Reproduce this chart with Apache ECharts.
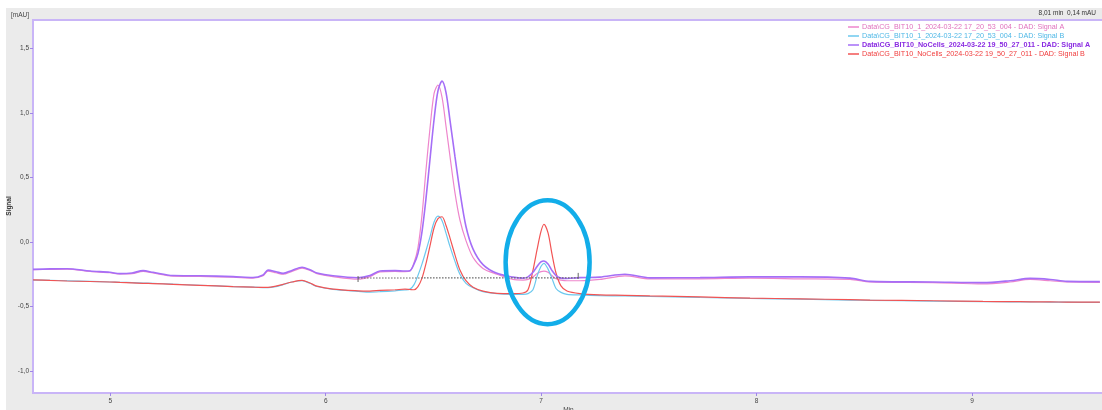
<!DOCTYPE html>
<html><head><meta charset="utf-8">
<script src="https://cdn.jsdelivr.net/npm/echarts@6/dist/echarts.min.js"></script>
<style>
html,body{margin:0;padding:0;background:#fff;}
#wrap{position:relative;width:1102px;height:410px;background:#fff;overflow:hidden;}
#bg{position:absolute;left:6px;top:8px;right:0;bottom:0;background:#ebebeb;}
#chart{position:absolute;left:0;top:0;width:1102px;height:410px;}
</style></head><body>
<div id="wrap"><div id="bg"></div><div id="chart"></div></div>
<script>
// retention time (min)
const timeMin = [4.641,4.720,4.799,4.906,4.998,5.045,5.101,5.152,5.198,5.291,5.416,5.570,5.662,5.709,5.732,5.769,5.802,5.843,5.890,5.927,5.959,6.034,6.150,6.205,6.252,6.322,6.368,6.391,6.410,6.428,6.447,6.465,6.484,6.503,6.521,6.540,6.558,6.577,6.600,6.623,6.651,6.684,6.730,6.795,6.869,6.916,6.939,6.962,6.981,6.999,7.013,7.032,7.050,7.069,7.092,7.120,7.180,7.273,7.389,7.505,7.738,7.970,8.202,8.434,8.527,8.819,9.051,9.177,9.270,9.363,9.441,9.594];
// sample, Signal A (pink)
const sampleA = [-0.215,-0.212,-0.21,-0.228,-0.238,-0.248,-0.245,-0.228,-0.24,-0.265,-0.267,-0.273,-0.28,-0.262,-0.225,-0.238,-0.25,-0.228,-0.202,-0.22,-0.245,-0.268,-0.288,-0.268,-0.232,-0.228,-0.23,-0.225,-0.16,-0.045,0.21,0.55,0.88,1.15,1.215,1.12,0.90,0.66,0.38,0.17,0.01,-0.12,-0.205,-0.25,-0.29,-0.295,-0.29,-0.27,-0.245,-0.23,-0.225,-0.235,-0.26,-0.285,-0.295,-0.3,-0.3,-0.29,-0.262,-0.285,-0.285,-0.28,-0.285,-0.29,-0.31,-0.315,-0.325,-0.31,-0.29,-0.30,-0.31,-0.312];
// sample, Signal B (blue)
const sampleB = [-0.295,-0.297,-0.30,-0.305,-0.31,-0.312,-0.315,-0.318,-0.32,-0.327,-0.335,-0.346,-0.35,-0.353,-0.354,-0.345,-0.33,-0.31,-0.30,-0.32,-0.345,-0.367,-0.382,-0.388,-0.385,-0.378,-0.372,-0.365,-0.33,-0.26,-0.17,-0.07,0.04,0.155,0.2,0.165,0.07,-0.036,-0.15,-0.25,-0.32,-0.355,-0.385,-0.40,-0.405,-0.405,-0.40,-0.37,-0.265,-0.19,-0.165,-0.21,-0.28,-0.36,-0.39,-0.405,-0.41,-0.415,-0.418,-0.422,-0.43,-0.437,-0.443,-0.45,-0.452,-0.458,-0.461,-0.463,-0.464,-0.465,-0.466,-0.468];
// NoCells, Signal A (purple)
const noCellsA = [-0.212,-0.208,-0.207,-0.225,-0.235,-0.245,-0.24,-0.222,-0.235,-0.26,-0.262,-0.268,-0.275,-0.255,-0.218,-0.23,-0.243,-0.22,-0.196,-0.215,-0.24,-0.262,-0.277,-0.26,-0.225,-0.222,-0.225,-0.222,-0.17,-0.09,0.08,0.33,0.64,0.95,1.17,1.245,1.16,0.94,0.66,0.39,0.12,-0.055,-0.175,-0.243,-0.272,-0.28,-0.27,-0.235,-0.19,-0.155,-0.147,-0.17,-0.22,-0.26,-0.28,-0.283,-0.276,-0.272,-0.25,-0.278,-0.276,-0.27,-0.27,-0.28,-0.305,-0.31,-0.315,-0.30,-0.282,-0.29,-0.305,-0.307];
// NoCells, Signal B (red)
const noCellsB = [-0.293,-0.298,-0.302,-0.306,-0.31,-0.313,-0.316,-0.32,-0.322,-0.328,-0.336,-0.345,-0.35,-0.352,-0.352,-0.342,-0.328,-0.31,-0.298,-0.318,-0.342,-0.365,-0.378,-0.38,-0.375,-0.37,-0.365,-0.368,-0.37,-0.345,-0.28,-0.17,-0.03,0.11,0.18,0.195,0.13,0.03,-0.10,-0.217,-0.30,-0.35,-0.38,-0.398,-0.40,-0.395,-0.37,-0.22,-0.06,0.08,0.137,0.07,-0.09,-0.24,-0.34,-0.38,-0.40,-0.41,-0.413,-0.418,-0.425,-0.435,-0.44,-0.447,-0.45,-0.455,-0.46,-0.462,-0.463,-0.464,-0.465,-0.466];
// integration baseline (dotted)
const baselineTime = [6.150, 7.172];
const baselineValue = [-0.279, -0.278];
// highlighted peak (ellipse centre)
const highlightCentre = [7.03, -0.157];

const xTicks = [5, 6, 7, 8, 9];
const yTicks = [-1.0, -0.5, 0.0, 0.5, 1.0, 1.5];

const seriesNames = [
  'Data\\CG_BIT10_1_2024-03-22 17_20_53_004 - DAD: Signal A',
  'Data\\CG_BIT10_1_2024-03-22 17_20_53_004 - DAD: Signal B',
  'Data\\CG_BIT10_NoCells_2024-03-22 19_50_27_011 - DAD: Signal A',
  'Data\\CG_BIT10_NoCells_2024-03-22 19_50_27_011 - DAD: Signal B'
];
const seriesValues = [sampleA, sampleB, noCellsA, noCellsB];
const seriesColors = ['#ee86cc', '#6cc8ee', '#a56ef7', '#f25454'];
const legendColors = ['#e070bd', '#4fb8e6', '#8a2be2', '#f03c3c'];
const lineWidths = [1.2, 1.2, 1.6, 1.2];

const font = 'Liberation Sans, Arial, sans-serif';
const chart = echarts.init(document.getElementById('chart'), null, {renderer: 'canvas'});
const fmt = v => (Math.abs(v) < 1e-9 ? 0 : v).toFixed(1).replace('.', ',');

const series = seriesNames.map((n, i) => ({
  name: n, type: 'line', symbol: 'none', smooth: 0.3,
  data: timeMin.map((t, k) => [t, seriesValues[i][k]]),
  lineStyle: {color: seriesColors[i], width: lineWidths[i]},
  itemStyle: {color: seriesColors[i]},
  z: i === 2 ? 4 : 3, animation: false
}));
series.push({
  name: 'baseline', type: 'line', symbol: 'none', silent: true,
  data: baselineTime.map((t, k) => [t, baselineValue[k]]),
  lineStyle: {color: '#666', width: 1.2, type: [1.5, 1.5]}, z: 5, animation: false
});

chart.setOption({
  animation: false,
  grid: {left: 33, top: 20, right: -2, bottom: 17, show: true, backgroundColor: '#fff', borderColor: '#c9b5f7', borderWidth: 2, containLabel: false, outerBoundsMode: 'none'},
  xAxis: {
    type: 'value', min: 4.641, max: 9.613,
    name: 'Min', nameLocation: 'middle', nameGap: 14, nameMoveOverlap: false,
    nameTextStyle: {fontSize: 6.5, color: '#444', fontFamily: font},
    axisLine: {show: true, onZero: false, lineStyle: {color: '#c9b5f7', width: 2}},
    axisTick: {show: true, length: 3, customValues: xTicks, lineStyle: {color: '#9f86e6'}},
    axisLabel: {customValues: xTicks, fontSize: 6.5, color: '#444', margin: 5, fontFamily: font, formatter: v => String(v)},
    splitLine: {show: false}
  },
  yAxis: {
    type: 'value', min: -1.169, max: 1.718,
    axisLine: {show: true, onZero: false, lineStyle: {color: '#c9b5f7', width: 2}},
    axisTick: {show: true, length: 3, customValues: yTicks, lineStyle: {color: '#9f86e6'}},
    axisLabel: {customValues: yTicks, fontSize: 6.5, color: '#444', margin: 4, fontFamily: font, formatter: fmt},
    splitLine: {show: false}
  },
  legend: {
    orient: 'vertical', left: 848, top: 23, padding: 0,
    itemWidth: 11, itemHeight: 1.5, itemGap: 1, icon: 'rect',
    data: seriesNames.map((n, i) => ({name: n, textStyle: {color: legendColors[i], fontWeight: i === 2 ? 'bold' : 'normal'}})),
    textStyle: {fontSize: 7.2, fontFamily: font, lineHeight: 8, padding: [0, 0, 0, -2]},
    selectedMode: false
  },
  series: series
});

const c = chart.convertToPixel({gridIndex: 0}, highlightCentre);
const b0 = chart.convertToPixel({gridIndex: 0}, [baselineTime[0], baselineValue[0]]);
const b1 = chart.convertToPixel({gridIndex: 0}, [baselineTime[1], baselineValue[1]]);
chart.setOption({
  graphic: [
    {type: 'text', left: 11, top: 12, z: 10, style: {text: '[mAU]', fontSize: 6.5, fill: '#444', fontFamily: font}},
    {type: 'text', x: 9, y: 206, rotation: Math.PI / 2, z: 10, style: {text: 'Signal', fontSize: 6.5, fontWeight: 'bold', fill: '#333', fontFamily: font, align: 'center', verticalAlign: 'middle'}},
    {type: 'text', right: 6, top: 10, z: 10, style: {text: '8,01 min  0,14 mAU', fontSize: 6.5, fill: '#333', fontFamily: font}},
    {type: 'line', z: 10, shape: {x1: b0[0], y1: b0[1] - 2, x2: b0[0], y2: b0[1] + 4}, style: {stroke: '#666', lineWidth: 1}},
    {type: 'line', z: 10, shape: {x1: b1[0], y1: b1[1] - 5, x2: b1[0], y2: b1[1] + 1}, style: {stroke: '#666', lineWidth: 1}},
    {type: 'ellipse', z: 20, shape: {cx: c[0], cy: c[1], rx: 42, ry: 62}, style: {fill: 'none', stroke: '#12ade9', lineWidth: 4.5}}
  ]
});
</script>
</body></html>
